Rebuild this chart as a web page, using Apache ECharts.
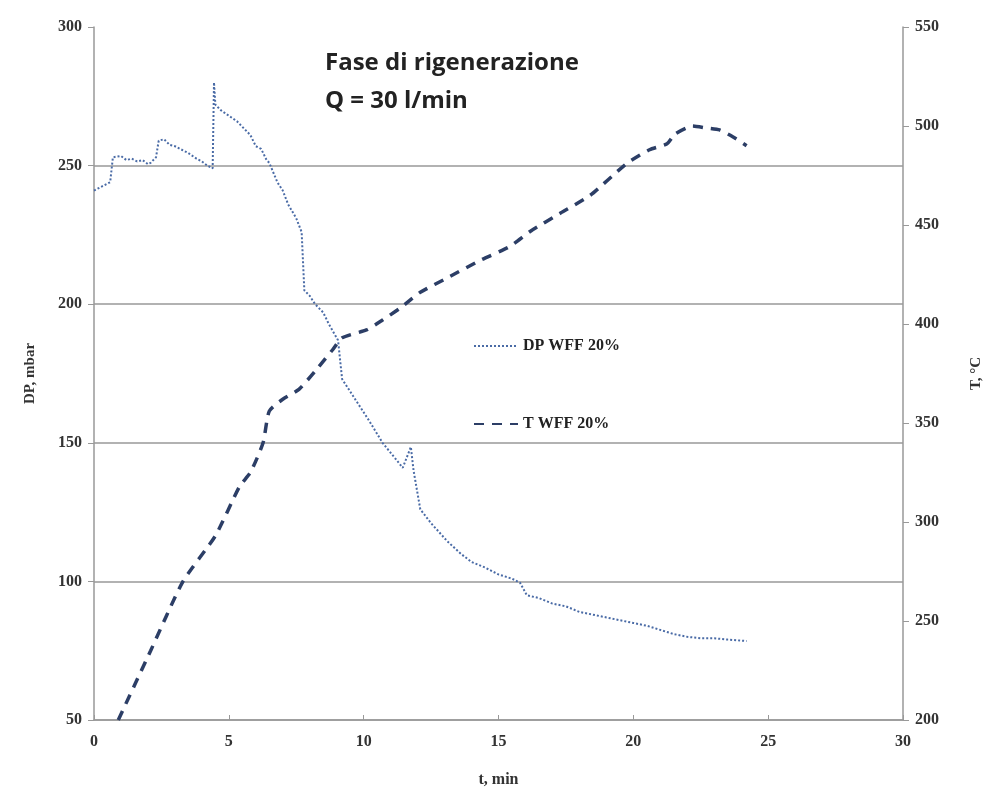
<!DOCTYPE html>
<html><head><meta charset="utf-8">
<script src="https://cdn.jsdelivr.net/npm/echarts@6/dist/echarts.min.js"></script>
<style>html,body{margin:0;padding:0;background:#fff}#c{width:990px;height:792px}</style>
</head><body><div id="c"></div>
<script>
// DP WFF 20% (mbar) vs time (min)
var dpTime = [0,0.3,0.6,0.7,1.0,1.2,1.4,1.6,1.8,2.0,2.1,2.3,2.4,2.6,2.8,3.0,3.3,3.5,3.8,4.0,4.2,4.4,4.45,4.5,4.7,5.0,5.3,5.5,5.8,6.0,6.2,6.4,6.5,6.8,7.0,7.2,7.5,7.7,7.8,8.0,8.2,8.5,8.7,9.05,9.2,9.6,10.2,10.7,11.2,11.45,11.75,11.85,12.1,12.5,13.1,13.6,14.0,14.5,15.0,15.5,15.8,16.05,16.5,17,17.5,18,18.5,19,19.5,20,20.5,21,21.5,22,22.5,23,23.5,24.2];
var dpValues = [241,242.5,244,253,253.5,252,252.5,251.5,252,250.5,251,253,259,259.5,257.5,257,255.5,254.5,252.5,251.5,250,249,280,272,270,268,266,264,261,257,256,252,251,244,241,236,231,226,205,203,200,197,193,187,173,167,158,150,144,141,148.5,140,126,121,114.5,110,107,105,102.5,101,99.5,95,94,92,91,89,88,87,86,85,84,82.5,81,80,79.5,79.5,79,78.5];
// T WFF 20% (°C) vs time (min)
var tTime = [0.9,2.1,3.3,4.5,5.4,5.8,6.27,6.5,7.0,7.6,8.25,8.85,9.2,10.1,10.7,11.35,12.1,13.2,14.3,15.4,16.2,17.3,18.4,19.75,20.6,21.25,21.55,22.2,22.7,23.2,23.7,24.2];
var tValues = [200,235,270,293,318,325,340,356,362,367,377,387,393,397,402,408,416,424,432,439,447,456,465,481,488,491,496,500,499,498,494.5,490];

var dpData = dpTime.map(function(t,i){return [t,dpValues[i]];});
var tData = tTime.map(function(t,i){return [t,tValues[i]];});

var serif = 'Liberation Serif';
var lblStyle = {fontFamily: serif, fontWeight: 'bold', fontSize: 16, color: '#333'};
var chart = echarts.init(document.getElementById('c'));
chart.setOption({
  animation: false,
  backgroundColor: '#fff',
  title: {
    text: 'Fase di rigenerazione\nQ = 30 l/min',
    left: 320, top: 39,
    textStyle: {fontFamily: 'Open Sans', fontWeight: 'bold', fontSize: 24, color: '#222', lineHeight: 38}
  },
  legend: {
    orient: 'vertical', left: 468, top: 333, itemGap: 62, itemWidth: 44, itemHeight: 10,
    itemStyle: {opacity: 0},
    textStyle: {fontFamily: serif, fontWeight: 'bold', fontSize: 16, color: '#222'},
    data: ['DP WFF 20%', 'T WFF 20%']
  },
  grid: {left: 94, right: 87, top: 27, bottom: 72, containLabel: false, outerBoundsMode: 'none'},
  xAxis: {
    type: 'value', min: 0, max: 30, interval: 5,
    name: 't, min', nameLocation: 'middle', nameGap: 52,
    nameTextStyle: lblStyle,
    axisLine: {lineStyle: {color: '#999', width: 1.5}},
    axisTick: {inside: true, length: 5, lineStyle: {color: '#999'}},
    axisLabel: Object.assign({margin: 14}, lblStyle),
    splitLine: {show: false}
  },
  yAxis: [{
    type: 'value', min: 50, max: 300, interval: 50,
    name: 'DP, mbar', nameLocation: 'middle', nameGap: 56,
    nameTextStyle: Object.assign({}, lblStyle, {fontSize: 15}),
    axisLine: {show: true, lineStyle: {color: '#999', width: 1.5}},
    axisTick: {show: true, length: 6, lineStyle: {color: '#999'}},
    axisLabel: Object.assign({margin: 12}, lblStyle),
    splitLine: {show: true, showMaxLine: false, lineStyle: {color: '#999', width: 1.5}}
  }, {
    type: 'value', min: 200, max: 550, interval: 50, position: 'right',
    name: 'T, °C', nameLocation: 'middle', nameGap: 66, nameRotate: 90,
    nameTextStyle: Object.assign({}, lblStyle, {fontSize: 15}),
    axisLine: {show: true, lineStyle: {color: '#999', width: 1.5}},
    axisTick: {show: true, length: 6, lineStyle: {color: '#999'}},
    axisLabel: Object.assign({margin: 12}, lblStyle),
    splitLine: {show: false}
  }],
  series: [{
    name: 'DP WFF 20%', type: 'line', yAxisIndex: 0, data: dpData,
    symbol: 'none', smooth: false,
    lineStyle: {color: '#4a6ba6', width: 2, type: [2, 2]},
    itemStyle: {color: '#4a6ba6'}
  }, {
    name: 'T WFF 20%', type: 'line', yAxisIndex: 1, data: tData,
    symbol: 'none', smooth: 0.2,
    lineStyle: {color: '#2c3e66', width: 3.5, type: [10, 8]},
    itemStyle: {color: '#2c3e66'}
  }]
});
</script></body></html>
